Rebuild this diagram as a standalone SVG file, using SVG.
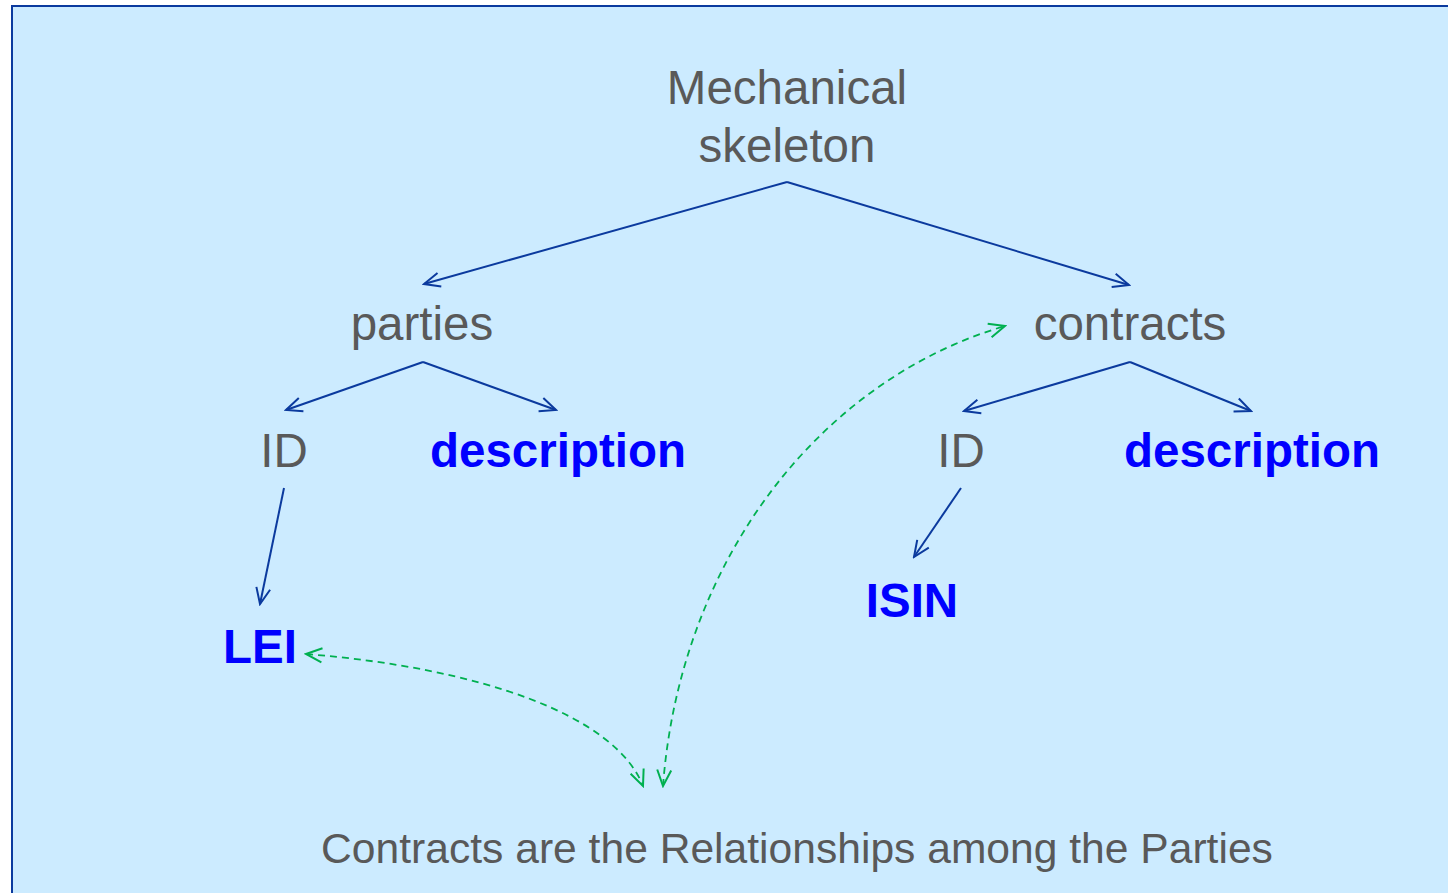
<svg xmlns="http://www.w3.org/2000/svg" width="1448" height="893" viewBox="0 0 1448 893">
<defs>
<style>
.t{font-family:"Liberation Sans",Arial,sans-serif;font-size:47.5px;fill:#595959;text-anchor:middle}
.b{font-family:"Liberation Sans",Arial,sans-serif;font-size:47.5px;font-weight:bold;fill:#0000FF;text-anchor:middle}
.e{fill:none;stroke:#0B3A9E;stroke-width:2}
.g{fill:none;stroke:#00B050;stroke-width:1.8;stroke-dasharray:7 5}
</style>
<marker id="ab" viewBox="0 0 20 20" refX="18" refY="10" markerWidth="20" markerHeight="20" markerUnits="userSpaceOnUse" orient="auto-start-reverse">
<path d="M2,3 L18,10 L2,17" fill="none" stroke="#0B3A9E" stroke-width="2"/>
</marker>
<marker id="ag" viewBox="0 0 20 20" refX="18" refY="10" markerWidth="20" markerHeight="20" markerUnits="userSpaceOnUse" orient="auto-start-reverse">
<path d="M2,3 L18,10 L2,17" fill="none" stroke="#00B050" stroke-width="2"/>
</marker>
</defs>
<rect x="0" y="0" width="1448" height="893" fill="#FFFFFF"/>
<rect x="12" y="6" width="1450" height="900" fill="#CCEBFF" stroke="#0B3A9E" stroke-width="2"/>
<g id="connectors">
<line class="e" x1="787" y1="182" x2="424" y2="284" marker-end="url(#ab)"/>
<line class="e" x1="787" y1="182" x2="1129" y2="285" marker-end="url(#ab)"/>
<line class="e" x1="423" y1="362" x2="286" y2="410" marker-end="url(#ab)"/>
<line class="e" x1="423" y1="362" x2="556" y2="410" marker-end="url(#ab)"/>
<line class="e" x1="1130" y1="362" x2="964" y2="411" marker-end="url(#ab)"/>
<line class="e" x1="1130" y1="362" x2="1251" y2="411" marker-end="url(#ab)"/>
<line class="e" x1="284" y1="488" x2="260" y2="604" marker-end="url(#ab)"/>
<line class="e" x1="961" y1="488" x2="914" y2="557" marker-end="url(#ab)"/>
<path class="g" d="M306,654 C480,668 615,715 643,786" marker-start="url(#ag)" marker-end="url(#ag)"/>
<path class="g" d="M663,786 C680,560 820,380 1005,326" marker-start="url(#ag)" marker-end="url(#ag)"/>
</g>
<g id="n-root"><text class="t" x="787" y="104">Mechanical</text><text class="t" x="787" y="162">skeleton</text></g>
<g id="n-parties"><text class="t" x="422" y="340">parties</text></g>
<g id="n-contracts"><text class="t" x="1130" y="340">contracts</text></g>
<g id="n-pid"><text class="t" x="284" y="467">ID</text></g>
<g id="n-pdesc"><text class="b" x="558" y="467">description</text></g>
<g id="n-cid"><text class="t" x="961" y="467">ID</text></g>
<g id="n-cdesc"><text class="b" x="1252" y="467">description</text></g>
<g id="n-lei"><text class="b" x="260" y="663">LEI</text></g>
<g id="n-isin"><text class="b" x="912" y="617">ISIN</text></g>
<g id="n-caption"><text class="t" x="797" y="863" style="font-size:42.6px">Contracts are the Relationships among the Parties</text></g>
</svg>
